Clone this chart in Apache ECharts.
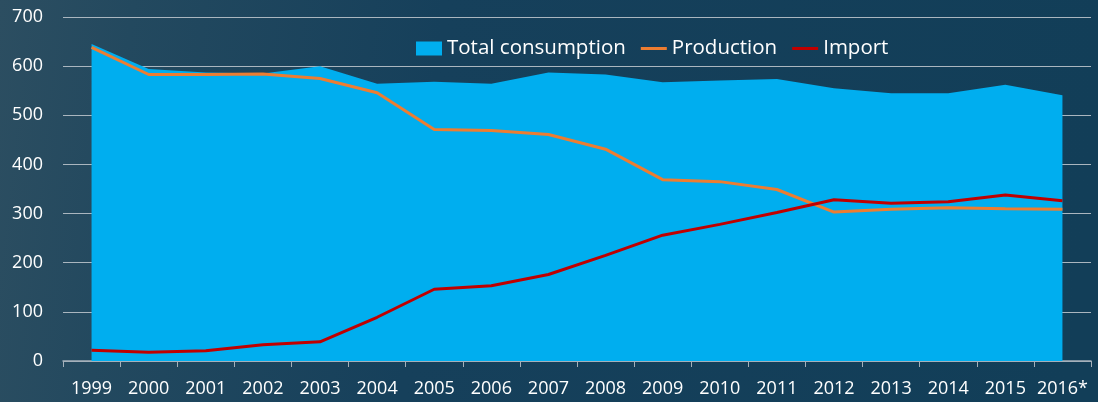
<!DOCTYPE html>
<html>
<head>
<meta charset="utf-8">
<script src="https://cdn.jsdelivr.net/npm/echarts@6/dist/echarts.min.js"></script>
<style>
html,body{margin:0;padding:0;background:#133f5a;}
#c{width:1098px;height:402px;}
</style>
</head>
<body>
<div id="c"></div>
<script>
var categories = ['1999','2000','2001','2002','2003','2004','2005','2006','2007','2008','2009','2010','2011','2012','2013','2014','2015','2016*'];
var totalConsumption = [645, 594, 587, 585, 600, 564, 568, 564, 587, 583, 567, 571, 574, 555, 545, 545, 562, 541];
var production = [638, 583, 583, 584, 575, 546, 471, 469, 461, 431, 369, 365, 349, 303, 309, 312, 310, 309];
var importData = [22, 18, 21, 33, 39, 89, 146, 153, 176, 215, 256, 278, 302, 328, 321, 324, 338, 326];

var FONT = 'Open Sans';
var LINE_ICON = 'path://M0,0L0.01,0Z M0,5.5L28,5.5L28,8.5L0,8.5Z M27.99,14L28,14Z';
var chart = echarts.init(document.getElementById('c'), null, {renderer: 'canvas'});
chart.setOption({
  backgroundColor: {
    type: 'linear', x: 0, y: 0, x2: 1, y2: 0.3,
    colorStops: [
      {offset: 0, color: '#2c4e61'},
      {offset: 0.12, color: '#23495f'},
      {offset: 0.4, color: '#16405b'},
      {offset: 1, color: '#123e58'}
    ]
  },
  animation: false,
  grid: {left: 63, right: 7, top: 17, bottom: 41, containLabel: false},
  legend: {
    left: 411, top: 33,
    itemWidth: 26, itemHeight: 14, itemGap: 15,
    itemStyle: {borderWidth: 0},
    textStyle: {color: '#ffffff', fontFamily: FONT, fontSize: 20.5},
    data: [
      {name: 'Total consumption', icon: 'rect'},
      {name: 'Production', icon: LINE_ICON},
      {name: 'Import', icon: LINE_ICON}
    ]
  },
  xAxis: {
    type: 'category',
    data: categories,
    boundaryGap: true,
    axisLine: {show: true, lineStyle: {color: '#a4b0ba', width: 1.5}},
    axisTick: {show: true, interval: 0, length: 6, lineStyle: {color: '#a4b0ba', width: 1}},
    axisLabel: {color: '#ffffff', fontFamily: FONT, fontSize: 18, margin: 19, interval: 0},
    splitLine: {show: false}
  },
  yAxis: {
    type: 'value',
    min: 0, max: 700, interval: 100,
    axisLine: {show: false},
    axisTick: {show: false},
    axisLabel: {color: '#ffffff', fontFamily: FONT, fontSize: 18, margin: 20},
    splitLine: {show: true, lineStyle: {color: '#aab6bf', width: 1}}
  },
  series: [
    {
      name: 'Total consumption', type: 'line', data: totalConsumption,
      symbol: 'none', lineStyle: {width: 0, color: '#00aeef'},
      itemStyle: {color: '#00aeef'},
      areaStyle: {color: '#00aeef', opacity: 1}, z: 1
    },
    {
      name: 'Production', type: 'line', data: production,
      symbol: 'none', lineStyle: {width: 3, color: '#ed7d31'},
      itemStyle: {color: '#ed7d31'}, z: 3
    },
    {
      name: 'Import', type: 'line', data: importData,
      symbol: 'none', lineStyle: {width: 3, color: '#c00000'},
      itemStyle: {color: '#c00000'}, z: 4
    }
  ]
});
</script>
</body>
</html>
